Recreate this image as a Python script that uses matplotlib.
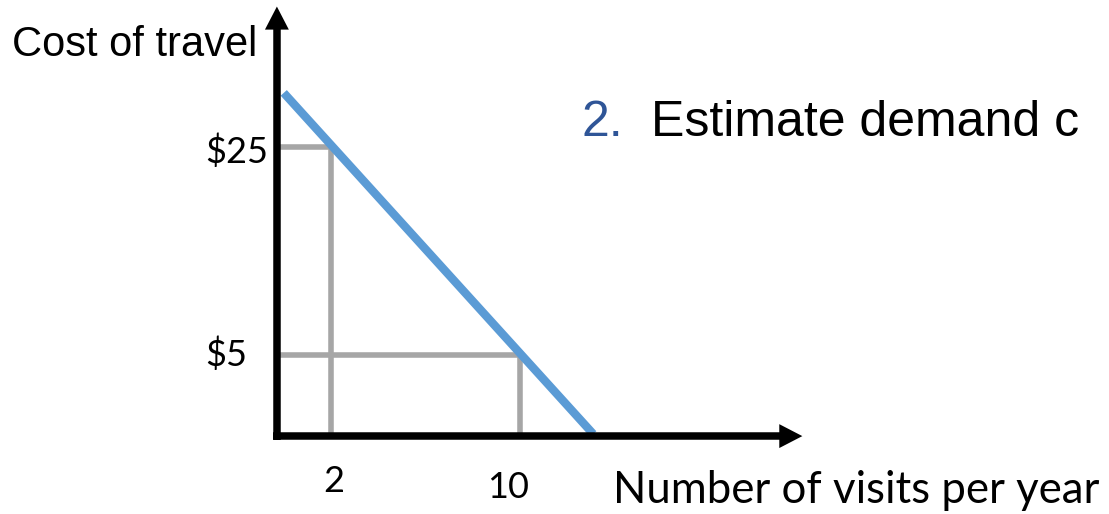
import matplotlib.pyplot as plt

# values
tick_visits = [2, 10]
tick_costs = [25, 5]
tick_visit_labels = ["2", "10"]
tick_cost_labels = ["$25", "$5"]

# demand line endpoints (where it meets the y axis and the x axis)
line_visits = [0, 13.1]
line_costs = [30.2, -2.6]

# axis origin in data units (the axes do not cross at 0,0 in the drawing)
axis_x0 = -0.29
axis_y0 = -2.8
axis_x_end = 21.95
axis_y_end = 38.5

W, H = 1109, 514
fig = plt.figure(figsize=(W / 100, H / 100), dpi=100)
ax = fig.add_axes([0, 0, 1, 1])
ax.set_xlim(-12.01, 34.93)
ax.set_ylim(-10.29, 39.13)
ax.axis('off')


def px(x, y):
    # pixel position (from top-left) -> figure fraction
    return x / W, 1 - y / H


# gray guide lines
for v, c in zip(tick_visits, tick_costs):
    ax.plot([axis_x0, v], [c, c], color='#a6a6a6', lw=4, solid_capstyle='butt', zorder=1)
    ax.plot([v, v], [c, axis_y0], color='#a6a6a6', lw=4, solid_capstyle='butt', zorder=1)

# demand line
ax.plot(line_visits, line_costs, color='#5b9bd5', lw=6, solid_capstyle='butt', zorder=2)

# axes: shafts as lines, heads as filled arrow tips
ax.plot([axis_x0, axis_x0], [axis_y0 - 0.36, axis_y_end - 2.0], color='black', lw=5.4,
        solid_capstyle='butt', zorder=3)
ax.plot([axis_x0 - 0.16, axis_x_end - 0.9], [axis_y0, axis_y0], color='black', lw=5.4,
        solid_capstyle='butt', zorder=3)
head = dict(arrowstyle='-|>,head_length=0.83,head_width=0.43', color='black', lw=0,
            mutation_scale=20, shrinkA=0, shrinkB=0)
ax.annotate('', xy=(axis_x0, axis_y_end), xytext=(axis_x0, axis_y_end - 4), arrowprops=head, zorder=3)
ax.annotate('', xy=(axis_x_end, axis_y0), xytext=(axis_x_end - 2, axis_y0), arrowprops=head, zorder=3)

calibri_like = ['Lato', 'DejaVu Sans']
arial_like = ['Liberation Sans', 'DejaVu Sans']

# tick labels
fig.text(*px(205, 163), tick_cost_labels[0], fontsize=26, family=calibri_like, ha='left', va='baseline')
fig.text(*px(205, 366), tick_cost_labels[1], fontsize=26, family=calibri_like, ha='left', va='baseline')
fig.text(*px(334, 492), tick_visit_labels[0], fontsize=26, family=calibri_like, ha='center', va='baseline')
fig.text(*px(508, 498), tick_visit_labels[1], fontsize=26, family=calibri_like, ha='center', va='baseline')

# axis titles
fig.text(*px(12, 56), "Cost of travel", fontsize=30, family=arial_like, ha='left', va='baseline')
fig.text(*px(613, 503), "Number of visits per year", fontsize=31.5, family=calibri_like, ha='left', va='baseline')

# slide heading
fig.text(*px(581, 136), "2.", fontsize=36, family=arial_like, color='#2f5597', ha='left', va='baseline')
fig.text(*px(651, 136), "Estimate demand c", fontsize=36, family=arial_like, ha='left', va='baseline')

fig.savefig('out.png', dpi=100)
